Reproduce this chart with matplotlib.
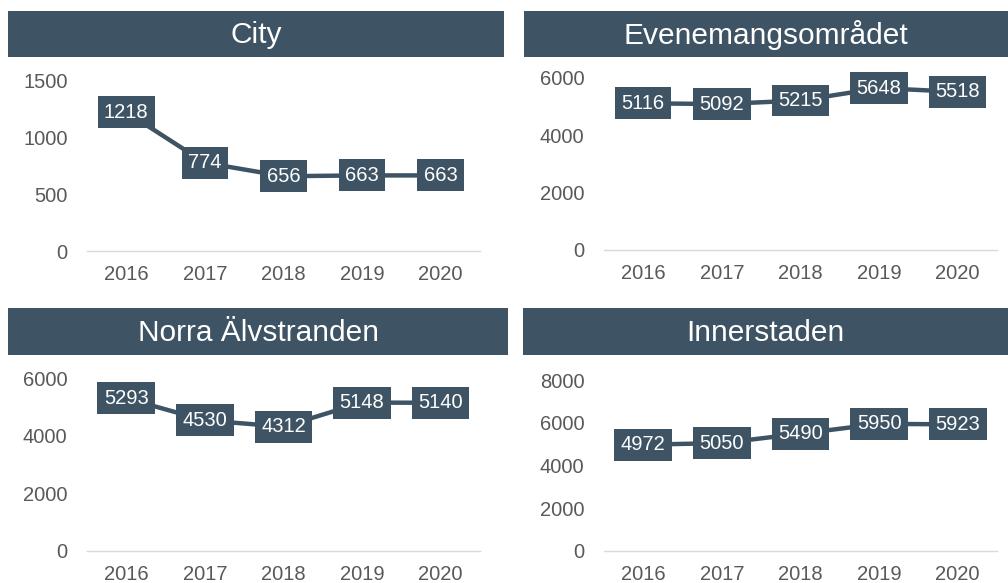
import matplotlib.pyplot as plt
from matplotlib.patches import Rectangle

plt.rcParams['font.family'] = ['Liberation Sans', 'DejaVu Sans']

years = ['2016', '2017', '2018', '2019', '2020']

titles = ['City', 'Evenemangsområdet', 'Norra Älvstranden', 'Innerstaden']
city = [1218, 774, 656, 663, 663]
evenemang = [5116, 5092, 5215, 5648, 5518]
norra = [5293, 4530, 4312, 5148, 5140]
inner = [4972, 5050, 5490, 5950, 5923]
series = [city, evenemang, norra, inner]
yticks = [[0, 500, 1000, 1500],
          [0, 2000, 4000, 6000],
          [0, 2000, 4000, 6000],
          [0, 2000, 4000, 6000, 8000]]

DARK = '#3E5464'
GRAY = '#595959'

W, H = 1008, 583
fig = plt.figure(figsize=(W / 100, H / 100), dpi=100)

def px_rect(x0, y0, x1, y1):
    # pixel box (top-left origin) -> figure fraction
    return [x0 / W, 1 - y1 / H, (x1 - x0) / W, (y1 - y0) / H]

# title bar boxes and plot areas, in pixels
bars = [(8, 11, 504, 57), (524, 11, 1008, 57), (8, 308, 508, 355), (523, 308, 1008, 355)]
plots = [(87, 80, 480, 251), (604, 78, 997, 250), (87, 378, 480, 551), (604, 380, 997, 551)]

for i in range(4):
    bx = fig.add_axes(px_rect(*bars[i]))
    bx.set_axis_off()
    bx.add_patch(Rectangle((0, 0), 1, 1, color=DARK, transform=bx.transAxes))
    bx.text(0.5, 0.47, titles[i], color='white', fontsize=21.5,
            ha='center', va='center', transform=bx.transAxes)

    ax = fig.add_axes(px_rect(*plots[i]))
    x = list(range(len(years)))
    vals = series[i]
    ax.plot(x, vals, color=DARK, lw=3.2, zorder=2)
    for xi, v in zip(x, vals):
        ax.text(xi, v, str(v), color='white', fontsize=14.5, ha='center', va='center',
                zorder=3,
                bbox=dict(boxstyle='square,pad=0.32', fc=DARK, ec='none'))
    ax.set_xlim(-0.5, 4.5)
    ax.set_ylim(0, yticks[i][-1])
    ax.set_xticks(x)
    ax.set_xticklabels(years)
    ax.set_yticks(yticks[i])
    ax.tick_params(length=0, labelsize=14.5, labelcolor=GRAY)
    ax.tick_params(axis='x', pad=10)
    ax.tick_params(axis='y', pad=14)
    for s in ['top', 'right', 'left']:
        ax.spines[s].set_visible(False)
    ax.spines['bottom'].set_color('#D9D9D9')
    ax.spines['bottom'].set_linewidth(1)
    ax.patch.set_alpha(0)

fig.savefig('out.png', dpi=100, facecolor='white')
